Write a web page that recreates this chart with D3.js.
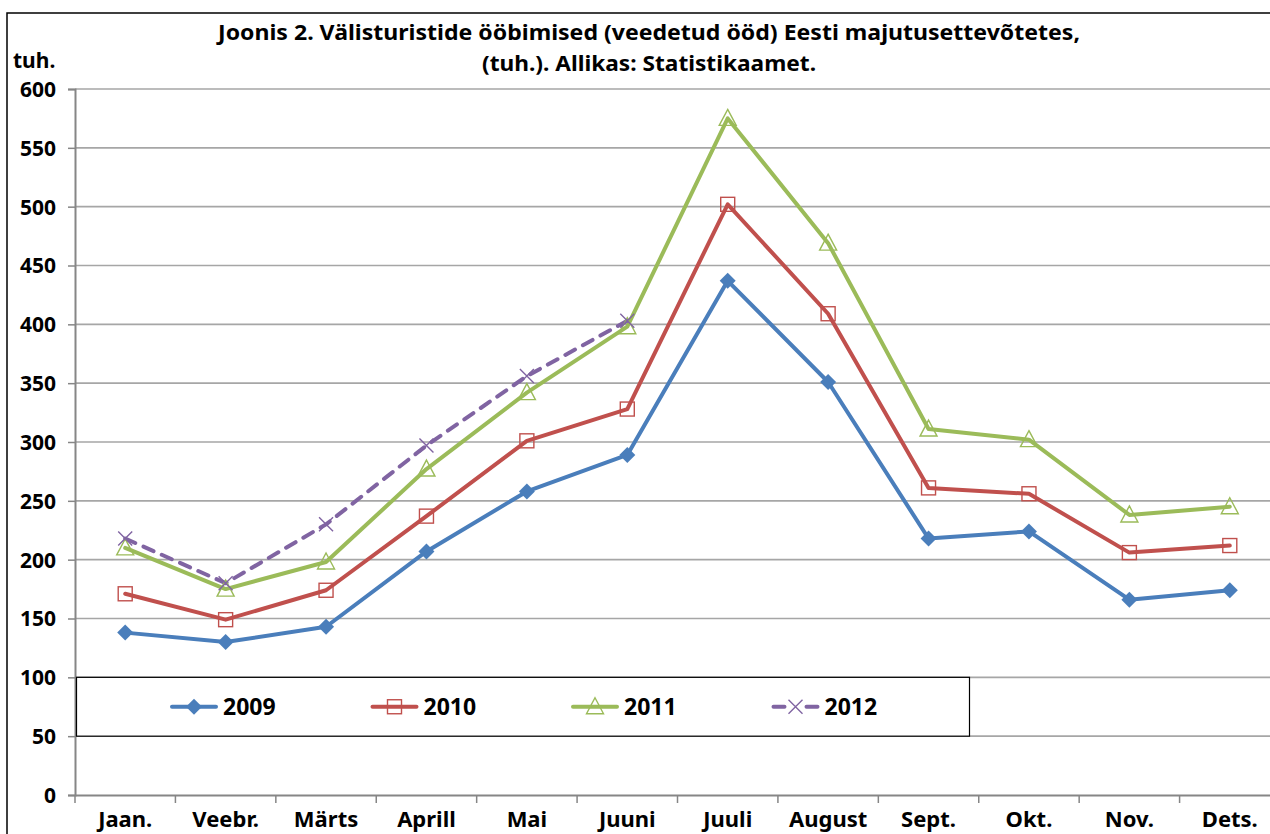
<!DOCTYPE html>
<html>
<head>
<meta charset="utf-8">
<script src="https://cdn.jsdelivr.net/npm/d3@7"></script>
<style>
  body { margin: 0; background: #fff; }
  svg text { font-family: "Noto Sans", "Open Sans", sans-serif; font-weight: bold; fill: #000; }
</style>
</head>
<body>
<svg id="chart" width="1270" height="834"></svg>
<script>
// month labels on the x axis
var months = ["Jaan.", "Veebr.", "Märts", "Aprill", "Mai", "Juuni", "Juuli", "August", "Sept.", "Okt.", "Nov.", "Dets."];

// thousand nights
var v2009 = [138, 130, 143, 207, 258, 289, 437, 351, 218, 224, 166, 174];
var v2010 = [171, 149, 174, 237, 301, 328, 502, 409, 261, 256, 206, 212];
var v2011 = [210, 175, 198, 277, 342, 398, 575, 469, 311, 302, 238, 245];
var v2012 = [218, 180, 230, 297, 356, 403];

var yTicks = [0, 50, 100, 150, 200, 250, 300, 350, 400, 450, 500, 550, 600];

var titleLines = ["Joonis 2. Välisturistide  ööbimised (veedetud ööd) Eesti majutusettevõtetes,",
                  "(tuh.). Allikas: Statistikaamet."];

var series = [
  {name: "2009", values: v2009, color: "#4A7EBB", marker: "diamond", dash: null},
  {name: "2010", values: v2010, color: "#C0504D", marker: "square", dash: null},
  {name: "2011", values: v2011, color: "#9BBB59", marker: "triangle", dash: null},
  {name: "2012", values: v2012, color: "#8064A2", marker: "cross", dash: "11,9"}
];

var svg = d3.select("#chart");

var plotL = 75, plotT = 89, plotB = 795, plotR = 1280;

var x = d3.scaleBand().domain(months).range([plotL, plotR]).padding(0);
var y = d3.scaleLinear().domain([0, 600]).range([plotB, plotT]);
var cx = function(i) { return x(months[i]) + x.bandwidth() / 2; };

// outer chart border (cropped on right and bottom)
svg.append("path")
   .attr("d", "M7,840 L7,13 L1280,13")
   .attr("fill", "none")
   .attr("stroke", "#000")
   .attr("stroke-width", 1.5);

// title
var titleWidths = [862, 334];
svg.selectAll(".title")
   .data(titleLines)
   .enter().append("text")
   .attr("class", "title")
   .attr("x", 649)
   .attr("y", function(d, i) { return 40 + i * 31; })
   .attr("text-anchor", "middle")
   .attr("textLength", function(d, i) { return titleWidths[i]; })
   .attr("lengthAdjust", "spacingAndGlyphs")
   .style("font-size", "22px")
   .text(function(d) { return d; });

svg.append("text")
   .attr("x", 13).attr("y", 68)
   .style("font-size", "21px")
   .text("tuh.");

// gridlines
svg.append("g")
   .selectAll("line")
   .data(yTicks.filter(function(t) { return t > 0; }))
   .enter().append("line")
   .attr("x1", plotL).attr("x2", 1270)
   .attr("y1", function(d) { return y(d); })
   .attr("y2", function(d) { return y(d); })
   .attr("stroke", "#a6a6a6")
   .attr("stroke-width", 1.6);

// y axis
var yAxis = svg.append("g")
   .attr("transform", "translate(" + plotL + ",0)")
   .call(d3.axisLeft(y).tickValues(yTicks).tickSize(7).tickPadding(12));
yAxis.select(".domain").attr("stroke", "#868686").attr("stroke-width", 2);
yAxis.selectAll(".tick line").attr("stroke", "#868686").attr("stroke-width", 1.5);
yAxis.selectAll(".tick text").style("font-size", "21px").attr("dy", "0.35em");

// x axis
var xAxis = svg.append("g")
   .attr("transform", "translate(0," + plotB + ")")
   .call(d3.axisBottom(x).tickSize(0).tickPadding(14));
xAxis.select(".domain").attr("stroke", "#868686").attr("stroke-width", 2);
xAxis.selectAll(".tick text").style("font-size", "22px").attr("dy", "0.82em");
xAxis.append("g")
   .selectAll("line")
   .data(months)
   .enter().append("line")
   .attr("x1", function(d) { return x(d); })
   .attr("x2", function(d) { return x(d); })
   .attr("y1", 0).attr("y2", 8)
   .attr("stroke", "#868686")
   .attr("stroke-width", 1.5);

// marker drawing
function drawMarker(g, type, color) {
  if (type === "diamond") {
    g.append("path").attr("d", "M0,-8L8,0L0,8L-8,0Z").attr("fill", color);
  } else if (type === "square") {
    g.append("rect").attr("x", -7).attr("y", -7).attr("width", 14).attr("height", 14)
     .attr("fill", "none").attr("stroke", color).attr("stroke-width", 1.4);
  } else if (type === "triangle") {
    g.append("path").attr("d", "M0,-9L8.5,7L-8.5,7Z")
     .attr("fill", "none").attr("stroke", color).attr("stroke-width", 1.4);
  } else {
    g.append("path").attr("d", "M-7,-7L7,7M-7,7L7,-7")
     .attr("fill", "none").attr("stroke", color).attr("stroke-width", 1.4);
  }
}

var line = d3.line()
   .x(function(d, i) { return cx(i); })
   .y(function(d) { return y(d); });

var lines = svg.append("g").attr("id", "lines");
series.forEach(function(s) {
  lines.append("path")
     .datum(s.values)
     .attr("d", line)
     .attr("fill", "none")
     .attr("stroke", s.color)
     .attr("stroke-width", 4)
     .attr("stroke-linejoin", "round")
     .attr("stroke-linecap", "round")
     .attr("stroke-dasharray", s.dash);
});

series.forEach(function(s) {
  s.values.forEach(function(v, i) {
    var g = lines.append("g").attr("transform", "translate(" + cx(i) + "," + y(v) + ")");
    drawMarker(g, s.marker, s.color);
  });
});

// legend
var legend = svg.append("g").attr("id", "legend");
legend.append("rect")
   .attr("x", 76.5).attr("y", y(100)).attr("width", 893).attr("height", y(50) - y(100))
   .attr("fill", "#fff").attr("stroke", "#000").attr("stroke-width", 1.2);

var ly = (y(100) + y(50)) / 2;
series.forEach(function(s, i) {
  var x0 = 172 + i * 200.5;
  var item = legend.append("g");
  item.append("line")
     .attr("x1", x0).attr("x2", x0 + 44)
     .attr("y1", ly).attr("y2", ly)
     .attr("stroke", s.color).attr("stroke-width", 4)
     .attr("stroke-linecap", "round")
     .attr("stroke-dasharray", s.dash ? "11,22" : null);
  var m = item.append("g").attr("transform", "translate(" + (x0 + 22) + "," + ly + ")");
  drawMarker(m, s.marker, s.color);
  item.append("text")
     .attr("x", x0 + 51).attr("y", ly)
     .attr("dy", "0.36em")
     .style("font-size", "23px")
     .text(s.name);
});
</script>
</body>
</html>
